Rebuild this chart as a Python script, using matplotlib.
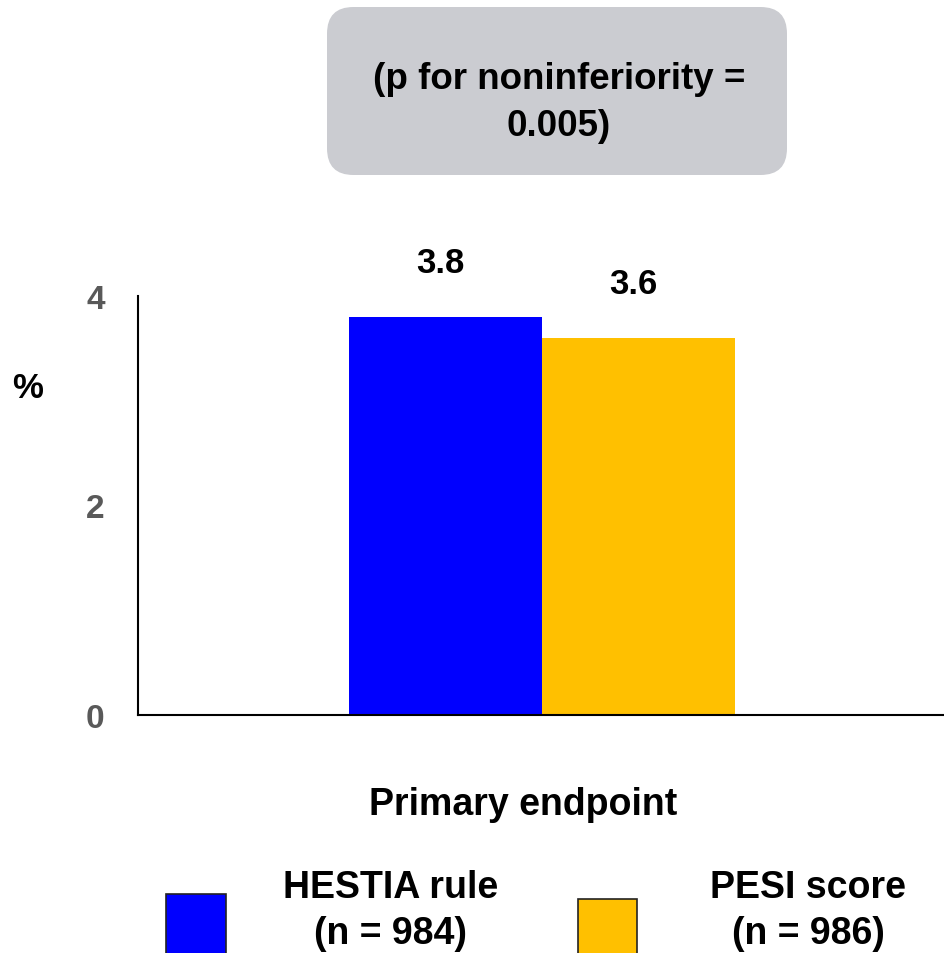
import matplotlib
matplotlib.use("Agg")
import matplotlib.pyplot as plt
from matplotlib.patches import FancyBboxPatch, Rectangle

plt.rcParams['font.family'] = ['Liberation Sans', 'DejaVu Sans']

categories = ["Primary endpoint"]
series_names = ["HESTIA rule\n(n = 984)", "PESI score\n(n = 986)"]
series_values = [[3.8], [3.6]]
series_colors = ["#0000FF", "#FFC000"]
yticks = [0, 2, 4]
box_text = "(p for noninferiority =\n0.005)"

fig = plt.figure(figsize=(9.44, 9.54), dpi=100)
ax = fig.add_axes([138/944, 1 - 716/954, 1 - 138/944, (716 - 297)/954])

w = 0.4
offsets = [-w/2, w/2]
for vals, off, col in zip(series_values, offsets, series_colors):
    xs = [i + off for i in range(len(categories))]
    ax.bar(xs, vals, width=w, color=col, edgecolor='none')
    for x, v in zip(xs, vals):
        ax.text(x - 0.01, v + 0.52, f"{v:.1f}", ha='center', va='center',
                fontsize=25, fontweight='bold', color='black')

ax.set_xlim(-0.837, 0.833)
ax.set_ylim(0, 4)
ax.set_yticks(yticks)
ax.set_yticklabels([str(t) for t in yticks], fontsize=24, fontweight='bold', color='#595959')
ax.tick_params(axis='y', length=0, pad=24)
ax.set_xticks([])
for s in ['top', 'right']:
    ax.spines[s].set_visible(False)
for s in ['left', 'bottom']:
    ax.spines[s].set_linewidth(1.5)
    ax.spines[s].set_color('black')

fig.text(28/944, 1 - 389/954, "%", ha='center', va='center', fontsize=25, fontweight='bold')
fig.text(523/944, 1 - 805/954, categories[0], ha='center', va='center', fontsize=27, fontweight='bold')

# grey rounded box at top
box = FancyBboxPatch((327/944, 1 - 176/954), (787 - 327)/944, (176 - 8)/954,
                     boxstyle="round,pad=0,rounding_size=0.028",
                     transform=fig.transFigure, facecolor='#CBCCD1', edgecolor='none')
fig.patches.append(box)
fig.text(559/944, 1 - 103/954, box_text, ha='center', va='center', fontsize=26.5,
         fontweight='bold', linespacing=1.42)

# legend
leg_sq = [(166, 895, 60, 70), (578, 900, 59, 70)]
leg_txt_x = [391, 808]
for (x0, y0, wpx, hpx), name, col, tx in zip(leg_sq, series_names, series_colors, leg_txt_x):
    r = Rectangle((x0/944, 1 - (y0 + hpx)/954), wpx/944, hpx/954, transform=fig.transFigure,
                  facecolor=col, edgecolor='#222222', linewidth=1.2)
    fig.patches.append(r)
    fig.text(tx/944, 1 - 911/954, name, ha='center', va='center', fontsize=27,
             fontweight='bold', linespacing=1.38)

fig.savefig("out.png", dpi=100)
